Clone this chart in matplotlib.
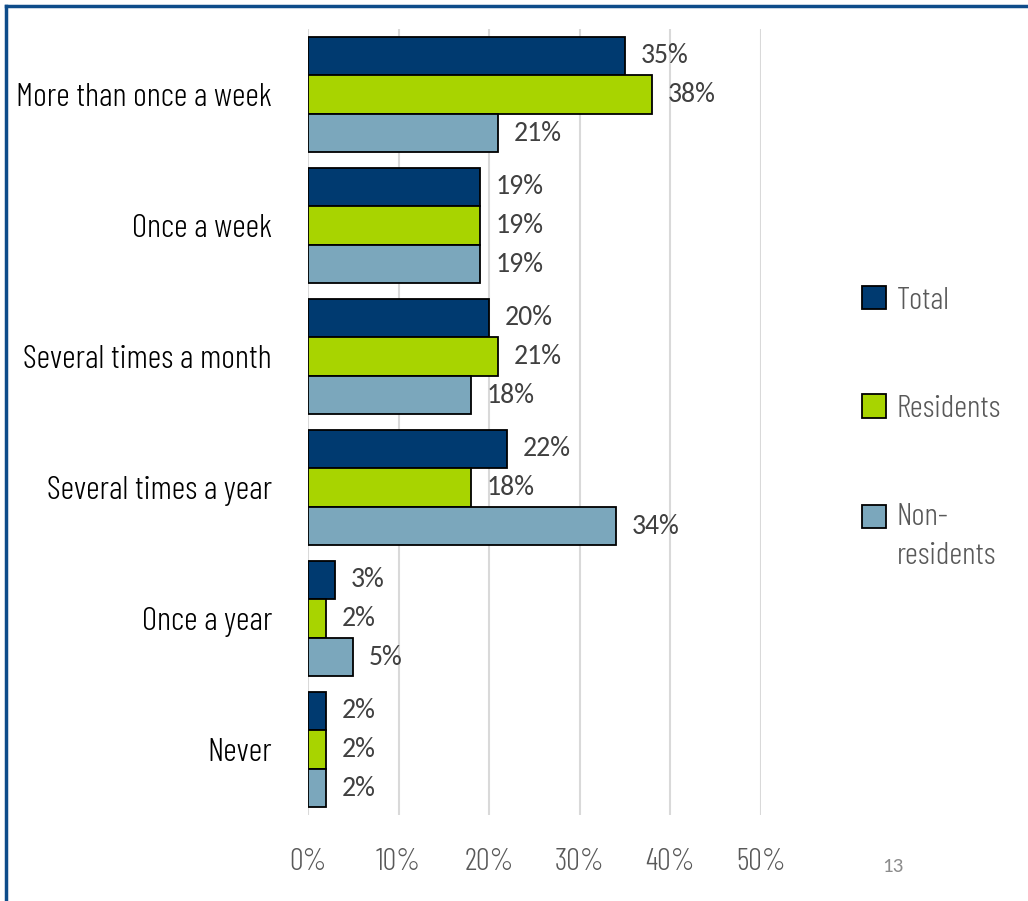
import numpy as np
import matplotlib.pyplot as plt
from matplotlib.lines import Line2D

categories = ["More than once a week", "Once a week", "Several times a month",
              "Several times a year", "Once a year", "Never"]
total = [35, 19, 20, 22, 3, 2]
residents = [38, 19, 21, 18, 2, 2]
non_residents = [21, 19, 18, 34, 5, 2]
series_names = ["Total", "Residents", "Non-\nresidents"]
colors = ["#003A70", "#A8D400", "#7BA7BC"]
ticks = [0, 10, 20, 30, 40, 50]

cond = ["Barlow Condensed", "DejaVu Sans"]
lab_font = ["Carlito", "Open Sans", "DejaVu Sans"]

fig = plt.figure(figsize=(10.28, 9.01), dpi=100)
ax = fig.add_axes([308 / 1028, 1 - 815 / 901, (761 - 308) / 1028, (815 - 29) / 901])

y = np.arange(len(categories))
h = 0.295
for i, (vals, c) in enumerate(zip([total, residents, non_residents], colors)):
    pos = y + (i - 1) * h
    ax.barh(pos, vals, height=h, color=c, edgecolor="black", linewidth=1.3, zorder=3)
    for p, v in zip(pos, vals):
        ax.annotate(f"{v}%", (v, p), xytext=(11, 0), textcoords="offset points",
                    va="center", ha="left", fontsize=20, color="#404040", family=lab_font)

ax.set_xlim(0, 50)
ax.set_ylim(len(categories) - 0.5, -0.5)
ax.set_xticks(ticks)
ax.set_xticklabels([f"{t}%" for t in ticks], fontsize=22, color="#595959",
                   family=cond, fontweight=300)
ax.set_yticks(y)
ax.set_yticklabels(categories, fontsize=24, color="black", family=cond, fontweight=300)
ax.tick_params(length=0)
ax.tick_params(axis="y", pad=26)
ax.tick_params(axis="x", pad=24)
ax.grid(axis="x", color="#D9D9D9", linewidth=1.5, zorder=0)
for s in ax.spines.values():
    s.set_visible(False)

handles = [plt.Rectangle((0, 0), 1, 1, facecolor=c, edgecolor="black", linewidth=1.3)
           for c in colors]
leg = fig.legend(handles, series_names, loc="upper left",
                 bbox_to_anchor=(833 / 1028, 1 - 257 / 901), frameon=False,
                 prop={"family": cond, "size": 23, "weight": 300}, labelcolor="#595959",
                 handlelength=0.75, handleheight=0.75, handletextpad=0.35, labelspacing=2.5)
for t in leg.get_texts():
    t.set_linespacing(1.5)
# square of the two-line entry sits beside its first line
hnd = leg.legend_handles[2]
hnd.set_y(hnd.get_y() + 14.4)

fig.text(893 / 1028, 1 - 866 / 901, "13", fontsize=15, color="#8C8C8C", ha="center",
         va="center", family=lab_font)

# slide frame lines
fig.add_artist(Line2D([6 / 1028, 6 / 1028], [0, 1 - 6 / 901], color="#0E4C8A", linewidth=2.5))
fig.add_artist(Line2D([6 / 1028, 1], [1 - 6 / 901, 1 - 6 / 901], color="#0E4C8A", linewidth=2.5))

plt.savefig("out.png", dpi=100)
